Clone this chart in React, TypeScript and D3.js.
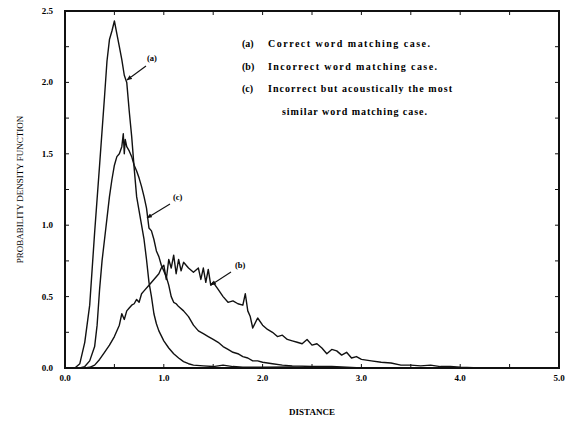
import React, { useEffect, useRef } from 'react';
import * as d3 from 'd3';

// curve (a): correct word matching
const aX = [0, 0.1, 0.15, 0.2, 0.25, 0.3, 0.35, 0.4, 0.425, 0.45, 0.475, 0.5, 0.525, 0.55, 0.575, 0.6, 0.625, 0.65, 0.675, 0.7, 0.725, 0.75, 0.775, 0.8, 0.825, 0.85, 0.875, 0.9, 0.925, 0.95, 1.0, 1.05, 1.1, 1.15, 1.2, 1.25, 1.3, 1.4, 1.5, 1.6, 1.7, 1.8, 2.0, 2.3, 2.5, 5.0];
const aY = [0, 0, 0.03, 0.18, 0.44, 0.95, 1.42, 1.9, 2.15, 2.3, 2.36, 2.43, 2.34, 2.25, 2.16, 2.05, 2.0, 1.8, 1.62, 1.4, 1.2, 1.1, 1.0, 0.9, 0.76, 0.6, 0.5, 0.38, 0.31, 0.26, 0.19, 0.14, 0.1, 0.07, 0.045, 0.03, 0.02, 0.015, 0.01, 0.02, 0.01, 0.005, 0.005, 0.008, 0, 0];

// curve (b): incorrect word matching
const bX = [0, 0.2, 0.25, 0.3, 0.35, 0.4, 0.45, 0.5, 0.55, 0.575, 0.6, 0.625, 0.65, 0.675, 0.7, 0.725, 0.75, 0.775, 0.8, 0.85, 0.9, 0.95, 0.975, 1.0, 1.025, 1.05, 1.075, 1.1, 1.125, 1.15, 1.175, 1.2, 1.25, 1.3, 1.35, 1.375, 1.4, 1.425, 1.45, 1.475, 1.5, 1.55, 1.6, 1.65, 1.7, 1.75, 1.8, 1.825, 1.85, 1.875, 1.9, 1.95, 2.0, 2.05, 2.1, 2.15, 2.2, 2.25, 2.3, 2.35, 2.4, 2.45, 2.5, 2.55, 2.6, 2.65, 2.7, 2.75, 2.8, 2.85, 2.9, 2.95, 3.0, 3.1, 3.2, 3.3, 3.4, 3.5, 3.6, 3.7, 3.8, 3.9, 4.0, 4.2, 5.0];
const bY = [0, 0, 0.005, 0.02, 0.06, 0.11, 0.16, 0.22, 0.3, 0.38, 0.34, 0.4, 0.42, 0.44, 0.45, 0.48, 0.46, 0.52, 0.54, 0.58, 0.62, 0.66, 0.7, 0.72, 0.62, 0.76, 0.7, 0.79, 0.66, 0.76, 0.68, 0.74, 0.7, 0.67, 0.7, 0.62, 0.7, 0.6, 0.69, 0.58, 0.6, 0.55, 0.5, 0.46, 0.47, 0.45, 0.44, 0.52, 0.4, 0.36, 0.28, 0.35, 0.3, 0.27, 0.25, 0.22, 0.23, 0.2, 0.19, 0.18, 0.17, 0.2, 0.16, 0.17, 0.14, 0.1, 0.13, 0.12, 0.09, 0.11, 0.07, 0.08, 0.06, 0.05, 0.04, 0.035, 0.02, 0.02, 0.015, 0.02, 0.01, 0.01, 0.005, 0, 0];

// curve (c): incorrect but acoustically most similar word
const cX = [0, 0.15, 0.2, 0.25, 0.3, 0.325, 0.35, 0.375, 0.4, 0.425, 0.45, 0.475, 0.5, 0.525, 0.55, 0.575, 0.59, 0.6, 0.61, 0.625, 0.65, 0.675, 0.7, 0.725, 0.75, 0.775, 0.8, 0.825, 0.85, 0.875, 0.9, 0.925, 0.95, 0.975, 1.0, 1.025, 1.05, 1.075, 1.1, 1.125, 1.15, 1.2, 1.25, 1.3, 1.35, 1.4, 1.45, 1.5, 1.55, 1.6, 1.65, 1.7, 1.75, 1.8, 1.85, 1.9, 1.95, 2.0, 2.1, 2.2, 2.3, 2.5, 2.7, 3.0, 5.0];
const cY = [0, 0, 0.01, 0.05, 0.15, 0.3, 0.55, 0.75, 0.9, 1.05, 1.2, 1.32, 1.42, 1.48, 1.5, 1.55, 1.64, 1.5, 1.6, 1.55, 1.52, 1.48, 1.42, 1.38, 1.33, 1.27, 1.2, 1.12, 0.98, 0.96, 0.9, 0.82, 0.78, 0.72, 0.68, 0.64, 0.58, 0.5, 0.46, 0.45, 0.43, 0.4, 0.36, 0.3, 0.26, 0.24, 0.22, 0.2, 0.18, 0.15, 0.13, 0.11, 0.1, 0.08, 0.07, 0.05, 0.05, 0.04, 0.03, 0.02, 0.015, 0.01, 0.01, 0, 0];

const xTicks = [0, 1, 2, 3, 4, 5];
const yTicks = [0, 0.5, 1.0, 1.5, 2.0, 2.5];
const legendKeys = ['(a)', '(b)', '(c)', ''];
const legendTexts = [
  'Correct word matching case.',
  'Incorrect word matching case.',
  'Incorrect but acoustically the most',
  'similar word matching case.',
];

function App() {
  const ref = useRef<SVGSVGElement>(null);

  useEffect(() => {
    const svg = d3.select(ref.current);
    svg.selectAll('*').remove();

    const left = 65, right = 559, top = 11, bottom = 368;
    const x = d3.scaleLinear().domain([0, 5]).range([left, right]);
    const y = d3.scaleLinear().domain([0, 2.5]).range([bottom, top]);

    const defs = svg.append('defs');
    defs.append('marker').attr('id', 'arr').attr('viewBox', '0 0 10 10')
      .attr('refX', 9).attr('refY', 5).attr('markerWidth', 5).attr('markerHeight', 5)
      .attr('orient', 'auto')
      .append('path').attr('d', 'M0,1 L10,5 L0,9 Z').attr('fill', '#111');

    // curves
    const series = [[aX, aY], [bX, bY], [cX, cY]];
    series.forEach(([xs, ys]) => {
      const pts = xs.map((v, i) => [x(v), y(ys[i])] as [number, number]);
      svg.append('path')
        .attr('d', d3.line()(pts))
        .attr('fill', 'none')
        .attr('stroke', '#111')
        .attr('stroke-width', 1.4)
        .attr('stroke-linejoin', 'round');
    });

    // inward minor ticks
    const g = svg.append('g').attr('stroke', '#111').attr('stroke-width', 1);
    d3.range(0, 5.01, 0.5).forEach(v => {
      g.append('line').attr('x1', x(v)).attr('x2', x(v)).attr('y1', bottom).attr('y2', bottom - 4);
      g.append('line').attr('x1', x(v)).attr('x2', x(v)).attr('y1', top).attr('y2', top + 4);
    });
    d3.range(0, 2.51, 0.25).forEach(v => {
      g.append('line').attr('x1', left).attr('x2', left + 4).attr('y1', y(v)).attr('y2', y(v));
      g.append('line').attr('x1', right).attr('x2', right - 4).attr('y1', y(v)).attr('y2', y(v));
    });

    // frame
    svg.append('rect')
      .attr('x', left).attr('y', top).attr('width', right - left).attr('height', bottom - top)
      .attr('fill', 'none').attr('stroke', '#111').attr('stroke-width', 2);

    // tick labels
    svg.selectAll('.xt').data(xTicks).join('text')
      .attr('class', 'serif')
      .attr('x', d => x(d)).attr('y', bottom + 13)
      .attr('text-anchor', 'middle')
      .attr('font-weight', 'bold').attr('font-size', 9)
      .text(d => d3.format('.1f')(d));
    svg.selectAll('.yt').data(yTicks).join('text')
      .attr('class', 'serif')
      .attr('x', left - 12).attr('y', d => y(d) + 3)
      .attr('text-anchor', 'end')
      .attr('font-weight', 'bold').attr('font-size', 9)
      .text(d => d3.format('.1f')(d));

    // axis titles
    svg.append('text').attr('class', 'serif')
      .attr('x', (left + right) / 2).attr('y', 415)
      .attr('text-anchor', 'middle')
      .attr('font-weight', 'bold').attr('font-size', 9)
      .text('DISTANCE');
    svg.append('text').attr('class', 'serif')
      .attr('transform', `translate(23, ${(top + bottom) / 2}) rotate(-90)`)
      .attr('text-anchor', 'middle')
      .attr('font-size', 9)
      .text('PROBABILITY DENSITY FUNCTION');

    // legend (line widths follow the scan's wide word spacing)
    const legendWidths = [162, 169, 184, 145];
    const legendStarts = [268, 268, 268, 282];
    legendTexts.forEach((t, i) => {
      const ty = 47 + i * 22.5;
      if (legendKeys[i]) {
        svg.append('text').attr('class', 'serif').attr('x', 242).attr('y', ty)
          .attr('font-weight', 'bold').attr('font-size', 10)
          .text(legendKeys[i]);
      }
      svg.append('text').attr('class', 'serif').attr('x', legendStarts[i]).attr('y', ty)
        .attr('font-weight', 'bold').attr('font-size', 10)
        .attr('textLength', legendWidths[i]).attr('lengthAdjust', 'spacing')
        .text(t);
    });

    // annotations with arrows
    const notes = [
      { label: '(a)', lx: 147, ly: 61, from: [146, 66], to: [127, 80] },
      { label: '(c)', lx: 173, ly: 200, from: [170, 204], to: [147, 218] },
      { label: '(b)', lx: 235, ly: 268, from: [231, 272], to: [211, 285] },
    ];
    notes.forEach(n => {
      svg.append('text').attr('class', 'serif').attr('x', n.lx).attr('y', n.ly)
        .attr('font-weight', 'bold').attr('font-size', 8.5)
        .text(n.label);
      svg.append('line')
        .attr('x1', n.from[0]).attr('y1', n.from[1]).attr('x2', n.to[0]).attr('y2', n.to[1])
        .attr('stroke', '#111').attr('stroke-width', 1.1)
        .attr('marker-end', 'url(#arr)');
    });
  }, []);

  return (
    <>
      <style>{`.serif { font-family: 'Liberation Serif', 'DejaVu Serif', serif; }`}</style>
      <svg ref={ref} width={578} height={421}
        style={{ position: 'absolute', left: 0, top: 0, background: '#fff' }} />
    </>
  );
}

export default App;
